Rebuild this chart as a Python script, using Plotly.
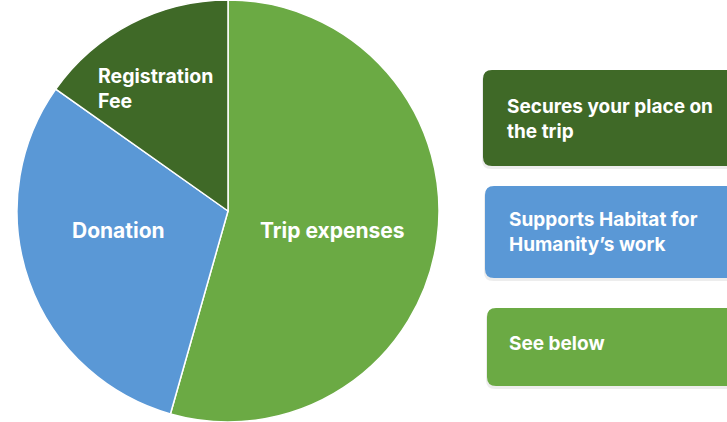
import plotly.graph_objects as go

# Data
categories = ["Trip expenses", "Donation", "Registration Fee"]
shares = [54.4, 30.4, 15.2]
slice_colors = ["#6BAA44", "#5A98D6", "#3F6927"]

box_texts = ["Secures your place on<br>the trip", "Supports Habitat for<br>Humanity\u2019s work", "See below"]
box_colors = ["#3F6927", "#5A98D6", "#6BAA44"]

W, H = 727, 422
FONT = "Inter"

fig = go.Figure()

fig.add_trace(go.Pie(
    labels=categories, values=shares, sort=False, direction="clockwise", rotation=0,
    marker=dict(colors=slice_colors, line=dict(color="white", width=1.5)),
    textinfo="none", hoverinfo="label+percent", showlegend=False,
    domain=dict(x=[17 / W, 439 / W], y=[0, 1]),
))

# invisible pixel-coordinate axes for decoration
fig.add_trace(go.Scatter(x=[0, W], y=[0, H], mode="markers", marker=dict(opacity=0), hoverinfo="skip", showlegend=False))


def rounded(x0, y0, x1, y1, r):
    return (f"M {x0+r},{y0} L {x1-r},{y0} Q {x1},{y0} {x1},{y0+r} L {x1},{y1-r} Q {x1},{y1} {x1-r},{y1} "
            f"L {x0+r},{y1} Q {x0},{y1} {x0},{y1-r} L {x0},{y0+r} Q {x0},{y0} {x0+r},{y0} Z")


boxes = [(483, 70, 745, 166), (485, 186, 745, 278), (487, 308, 745, 386)]
text_y = [119, 232, 343]
text_x = [505, 507, 507]
for (x0, y0, x1, y1), col, txt, ty, tx in zip(boxes, box_colors, box_texts, text_y, text_x):
    fig.add_shape(type="path", path=rounded(x0 - 1, y0 + 2, x1, y1 + 3, 9), xref="x", yref="y",
                  fillcolor="rgba(0,0,0,0.07)", line=dict(width=0), layer="below")
    fig.add_shape(type="path", path=rounded(x0, y0, x1, y1, 9), xref="x", yref="y",
                  fillcolor=col, line=dict(width=0), layer="above")
    fig.add_annotation(x=tx, y=ty, xref="x", yref="y", text=txt, showarrow=False,
                       xanchor="left", yanchor="middle", align="left",
                       font=dict(family=FONT, size=19, color="white", weight=700))

# pie labels
pie_label_pos = [(332, 230, "center", 21), (118, 230, "center", 21), (96, 88, "left", 19.5)]
pie_label_text = ["Trip expenses", "Donation", "Registration<br>Fee"]
for (lx, ly, anc, fs), t in zip(pie_label_pos, pie_label_text):
    fig.add_annotation(x=lx, y=ly, xref="x", yref="y", text=t, showarrow=False,
                       xanchor=anc, yanchor="middle", align="left",
                       font=dict(family=FONT, size=fs, color="white", weight=700))

fig.update_layout(
    width=W, height=H, margin=dict(l=0, r=0, t=0, b=0),
    paper_bgcolor="white", plot_bgcolor="rgba(0,0,0,0)",
    xaxis=dict(range=[0, W], visible=False, fixedrange=True),
    yaxis=dict(range=[H, 0], visible=False, fixedrange=True),
)

fig.write_html("out.html")
